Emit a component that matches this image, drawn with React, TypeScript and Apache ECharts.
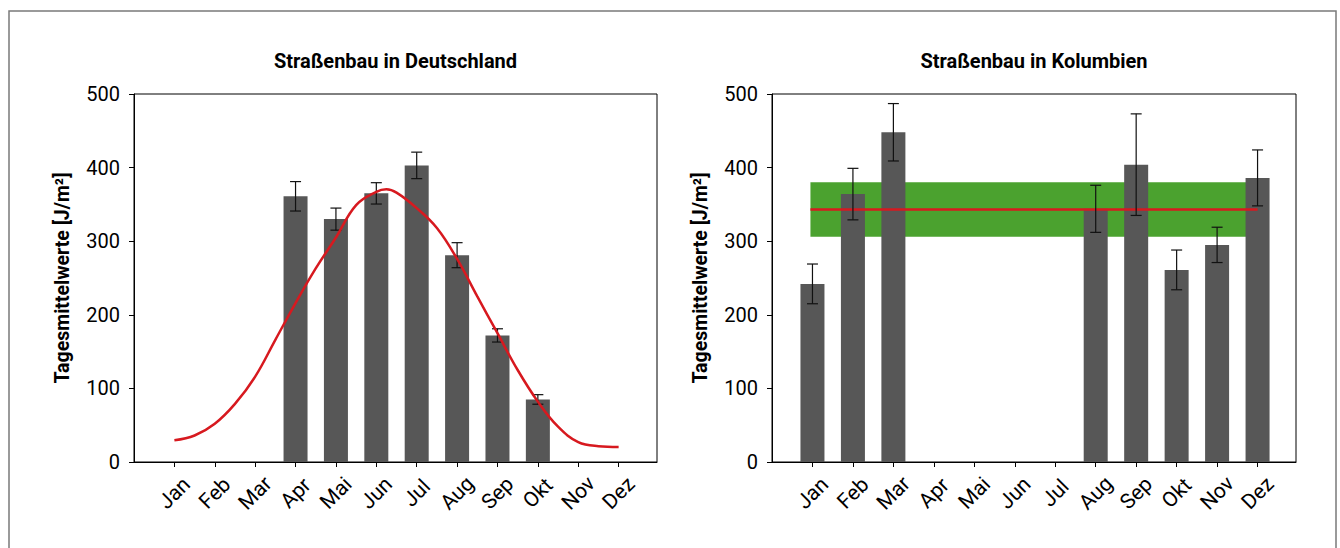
import React, { useEffect, useRef } from "react";
import * as echarts from "echarts";

const months = ["Jan", "Feb", "Mar", "Apr", "Mai", "Jun", "Jul", "Aug", "Sep", "Okt", "Nov", "Dez"];

// Deutschland
const deValues: (number | null)[] = [null, null, null, 361, 330, 365, 403, 281, 172, 85, null, null];
const deErr: (number | null)[] = [null, null, null, 20, 15, 14.5, 18, 17, 9, 6.5, null, null];
const deCurveX = [0, 0.5, 1, 1.5, 2, 2.5, 3, 3.5, 4, 4.5, 5, 5.25, 5.5, 6, 6.5, 7, 7.5, 8, 8.5, 9, 9.5, 10, 10.5, 11];
const deCurveY = [29.5, 36, 52, 79, 116, 166, 216, 263, 305, 349, 367, 370.5, 366, 345, 318, 276, 225, 175, 125, 82, 48, 27, 21.5, 20.5];

// Kolumbien
const coValues: (number | null)[] = [242, 364, 448, null, null, null, null, 344, 404, 261, 295, 386];
const coErr: (number | null)[] = [27, 35, 39, null, null, null, null, 32, 69, 27, 24, 38];
const coMean = 343;
const coBandLow = 306;
const coBandHigh = 380;

const FONT = "Roboto, 'Noto Sans', sans-serif";
const BAR = "#575757";
const RED = "#d7191f";
const GREEN = "#4ba22f";

const grids = [
  { left: 134, top: 94, width: 523, height: 368 },
  { left: 772, top: 94, width: 524, height: 368 },
];

function barData(vals: (number | null)[]) {
  const out: number[][] = [];
  vals.forEach((v, i) => {
    if (v != null) out.push([i, v]);
  });
  return out;
}
function errData(vals: (number | null)[], errs: (number | null)[]) {
  const out: number[][] = [];
  vals.forEach((v, i) => {
    const e = errs[i];
    if (v != null && e != null) out.push([i, v - e, v + e]);
  });
  return out;
}

const errRender = (params: any, api: any) => {
  const x = api.value(0);
  const lo = api.coord([x, api.value(1)]);
  const hi = api.coord([x, api.value(2)]);
  const cw = 5.5;
  const style = { stroke: "#111", lineWidth: 1.2 };
  return {
    type: "group",
    children: [
      { type: "line", shape: { x1: lo[0], y1: lo[1], x2: hi[0], y2: hi[1] }, style },
      { type: "line", shape: { x1: hi[0] - cw, y1: hi[1], x2: hi[0] + cw, y2: hi[1] }, style },
      { type: "line", shape: { x1: lo[0] - cw, y1: lo[1], x2: lo[0] + cw, y2: lo[1] }, style },
    ],
  };
};

function xAxis(gi: number) {
  const ticks = months.map((_, i) => i);
  return {
    type: "value",
    gridIndex: gi,
    min: -1,
    max: 11.95,
    interval: 1,
    splitLine: { show: false },
    axisLine: { show: true, onZero: false, lineStyle: { color: "#000", width: 1 } },
    axisTick: { show: true, length: 5, customValues: ticks, lineStyle: { color: "#000" } },
    axisLabel: {
      customValues: ticks,
      formatter: (v: number) => months[Math.round(v)] ?? "",
      rotate: 45,
      align: "center",
      verticalAlign: "middle",
      margin: 31,
      fontSize: 21,
      color: "#000",
      fontFamily: FONT,
    },
  };
}
function yAxis(gi: number) {
  return {
    type: "value",
    gridIndex: gi,
    min: 0,
    max: 500,
    interval: 100,
    name: "Tagesmittelwerte [J/m²]",
    nameLocation: "middle",
    nameGap: 62,
    nameTextStyle: { fontSize: 19.5, fontWeight: "bold", color: "#000", fontFamily: FONT },
    splitLine: { show: false },
    axisLine: { show: true, onZero: false, lineStyle: { color: "#000", width: 1 } },
    axisTick: { show: true, length: 5, lineStyle: { color: "#000" } },
    axisLabel: { margin: 14, fontSize: 20, color: "#000", fontFamily: FONT },
  };
}

export default function App() {
  const ref = useRef<HTMLDivElement>(null);
  useEffect(() => {
    if (!ref.current) return;
    const chart = echarts.init(ref.current, null, { renderer: "svg" });
    chart.setOption({
      animation: false,
      backgroundColor: "#fff",
      grid: grids.map((g) => ({ ...g, show: true, borderColor: "#000", borderWidth: 1, backgroundColor: "transparent" })),
      xAxis: [xAxis(0), xAxis(1)],
      yAxis: [yAxis(0), yAxis(1)],
      graphic: [
        {
          type: "rect",
          shape: { x: 9, y: 11, width: 1327, height: 600 },
          style: { fill: "none", stroke: "#7a7a7a", lineWidth: 1.5 },
          silent: true,
        },
        {
          type: "text",
          x: 395.5,
          y: 61,
          style: { text: "Straßenbau in Deutschland", align: "center", verticalAlign: "middle", fontSize: 20, fontWeight: "bold", fontFamily: FONT, fill: "#000" },
        },
        {
          type: "text",
          x: 1034,
          y: 61,
          style: { text: "Straßenbau in Kolumbien", align: "center", verticalAlign: "middle", fontSize: 20, fontWeight: "bold", fontFamily: FONT, fill: "#000" },
        },
      ],
      series: [
        {
          type: "bar",
          xAxisIndex: 0,
          yAxisIndex: 0,
          data: barData(deValues),
          barWidth: 24,
          itemStyle: { color: BAR },
          z: 2,
        },
        {
          type: "custom",
          xAxisIndex: 0,
          yAxisIndex: 0,
          data: errData(deValues, deErr),
          renderItem: errRender,
          encode: { x: 0, y: [1, 2] },
          z: 3,
        },
        {
          type: "line",
          xAxisIndex: 0,
          yAxisIndex: 0,
          data: deCurveX.map((x, i) => [x, deCurveY[i]]),
          smooth: 0.4,
          showSymbol: false,
          symbol: "none",
          lineStyle: { color: RED, width: 2.5 },
          z: 4,
        },
        {
          type: "line",
          xAxisIndex: 1,
          yAxisIndex: 1,
          data: [],
          markArea: {
            silent: true,
            itemStyle: { color: GREEN, opacity: 1 },
            data: [[{ xAxis: -0.05, yAxis: coBandHigh }, { xAxis: 11, yAxis: coBandLow }]],
          },
          z: 1,
        },
        {
          type: "bar",
          xAxisIndex: 1,
          yAxisIndex: 1,
          data: barData(coValues),
          barWidth: 24,
          itemStyle: { color: BAR },
          z: 2,
        },
        {
          type: "line",
          xAxisIndex: 1,
          yAxisIndex: 1,
          data: [
            [-0.05, coMean],
            [11, coMean],
          ],
          showSymbol: false,
          symbol: "none",
          lineStyle: { color: RED, width: 2.5 },
          z: 3,
        },
        {
          type: "custom",
          xAxisIndex: 1,
          yAxisIndex: 1,
          data: errData(coValues, coErr),
          renderItem: errRender,
          encode: { x: 0, y: [1, 2] },
          z: 4,
        },
      ],
    });
    return () => chart.dispose();
  }, []);
  return <div ref={ref} style={{ position: "fixed", left: 0, top: 0, width: 1340, height: 548 }} />;
}
